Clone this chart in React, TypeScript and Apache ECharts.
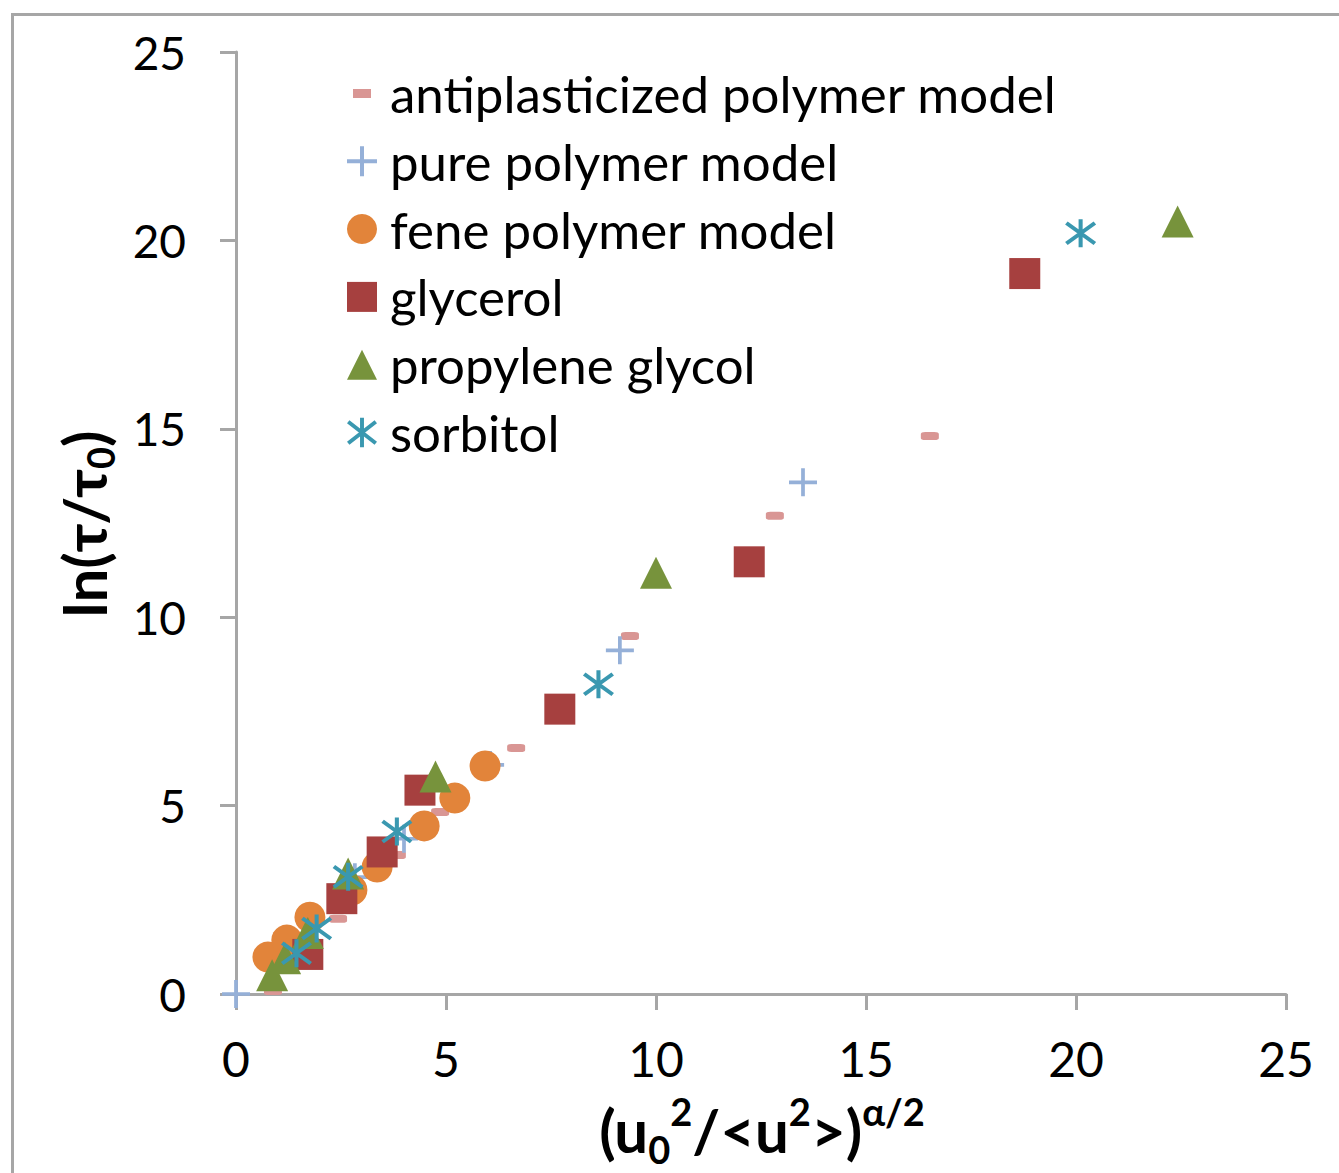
import React, { useEffect, useRef } from "react";
import * as echarts from "echarts";

// ---- data ----
const antiX = [0.88, 2.43, 3.83, 4.86, 6.67, 9.38, 12.83, 16.52];
const antiY = [0.08, 2.0, 3.69, 4.83, 6.53, 9.5, 12.69, 14.81];

const pureX = [0, 0.81, 2.83, 4.0, 6.05, 9.14, 13.5];
const pureY = [0, 0.82, 3.1, 4.12, 6.08, 9.12, 13.58];

const feneX = [0.76, 1.21, 1.76, 2.76, 3.36, 4.48, 5.21, 5.93];
const feneY = [0.98, 1.43, 2.04, 2.76, 3.37, 4.46, 5.2, 6.05];

const glyX = [1.71, 2.52, 3.48, 4.38, 7.71, 12.22, 18.78];
const glyY = [1.05, 2.53, 3.77, 5.41, 7.56, 11.47, 19.12];

const propX = [0.86, 1.17, 1.71, 2.67, 4.75, 10.0, 22.42];
const propY = [0.5, 0.95, 1.62, 3.2, 5.77, 11.18, 20.5];

const sorbX = [1.44, 1.92, 2.67, 3.83, 8.63, 20.11];
const sorbY = [1.08, 1.74, 3.11, 4.31, 8.22, 20.19];

const seriesNames = [
  "antiplasticized polymer model",
  "pure polymer model",
  "fene polymer model",
  "glycerol",
  "propylene glycol",
  "sorbitol",
];

const axisTicks = [0, 5, 10, 15, 20, 25];

// ---- styling ----
const FONT = "Lato";
const AXIS_GRAY = "#a6a6a6";

const PLUS_PATH =
  "path://M13,0H17V13H30V17H17V30H13V17H0V13H13Z";
const ASTER_PATH =
  "path://M13,0L17,0L17,30L13,30Z" +
  "M2.24,2.43L30.24,24.43L27.76,27.57L-0.24,5.57Z" +
  "M-0.24,24.43L27.76,2.43L30.24,5.57L2.24,27.57Z";
const DASH_LEGEND_PATH = "path://M0,0M30,30M6,10.5H24V19.5H6Z";

const zip = (xs: number[], ys: number[]) => xs.map((x, i) => [x, ys[i]]);

export default function App() {
  const ref = useRef<HTMLDivElement>(null);

  useEffect(() => {
    document.body.style.margin = "0";
    if (!ref.current) return;
    const chart = echarts.init(ref.current, null, { renderer: "svg" });

    const colors = ["#d99694", "#95b0d8", "#e2843a", "#a6403f", "#77933c", "#3a98b0"];

    const option: any = {
      animation: false,
      backgroundColor: "#ffffff",
      grid: { left: 236, right: 53, top: 52, bottom: 179, containLabel: false },
      xAxis: {
        type: "value",
        min: 0,
        max: 25,
        interval: 5,
        splitLine: { show: false },
        axisLine: { show: true, onZero: false, lineStyle: { color: AXIS_GRAY, width: 3 } },
        axisTick: { show: true, length: 16, lineStyle: { color: AXIS_GRAY, width: 3 } },
        axisLabel: {
          margin: 40,
          fontFamily: FONT,
          fontSize: 48,
          color: "#000",
          formatter: (v: number) => (axisTicks.includes(v) ? String(v) : ""),
        },
      },
      yAxis: {
        type: "value",
        min: 0,
        max: 25,
        interval: 5,
        splitLine: { show: false },
        axisLine: { show: true, onZero: false, lineStyle: { color: AXIS_GRAY, width: 3 } },
        axisTick: { show: true, length: 16, lineStyle: { color: AXIS_GRAY, width: 3 } },
        axisLabel: {
          margin: 50,
          fontFamily: FONT,
          fontSize: 46,
          color: "#000",
          formatter: (v: number) => (axisTicks.includes(v) ? String(v) : ""),
        },
      },
      legend: {
        orient: "vertical",
        left: 347,
        top: 68,
        padding: 0,
        itemWidth: 30,
        itemHeight: 30,
        itemGap: 16.8,
        textStyle: {
          fontFamily: FONT,
          fontSize: 51,
          color: "#000",
          lineHeight: 30,
          padding: [0, 0, 0, 8],
        },
        data: [
          { name: seriesNames[0], icon: DASH_LEGEND_PATH },
          { name: seriesNames[1], icon: PLUS_PATH },
          { name: seriesNames[2], icon: "circle" },
          { name: seriesNames[3], icon: "rect" },
          { name: seriesNames[4], icon: "triangle" },
          { name: seriesNames[5], icon: ASTER_PATH },
        ],
      },
      graphic: [
        {
          type: "rect",
          left: 10,
          top: 12,
          shape: { x: 0, y: 0, width: 1400, height: 1300 },
          style: { fill: "none", stroke: AXIS_GRAY, lineWidth: 3 },
          silent: true,
          z: -10,
        },
        {
          type: "text",
          x: 84,
          y: 524,
          rotation: Math.PI / 2,
          style: {
            text: "{b|ln(τ/τ}{s|0}{b|)}",
            align: "center",
            verticalAlign: "middle",
            rich: {
              b: { fontFamily: FONT, fontWeight: "bold", fontSize: 60, fill: "#000", lineHeight: 70, verticalAlign: "middle" },
              s: { fontFamily: FONT, fontWeight: "bold", fontSize: 38, fill: "#000", lineHeight: 66, verticalAlign: "bottom" },
            },
          },
        },
        {
          type: "text",
          x: 762,
          y: 1130,
          style: {
            text: "{b|(u}{s|0}{p|2}{b|/<u}{p|2}{b|>)}{p|α/2}",
            align: "center",
            verticalAlign: "middle",
            rich: {
              b: { fontFamily: FONT, fontWeight: "bold", fontSize: 60, fill: "#000", lineHeight: 76, verticalAlign: "middle" },
              s: { fontFamily: FONT, fontWeight: "bold", fontSize: 38, fill: "#000", lineHeight: 62, verticalAlign: "bottom" },
              p: { fontFamily: FONT, fontWeight: "bold", fontSize: 38, fill: "#000", lineHeight: 66, verticalAlign: "top" },
            },
          },
        },
      ],
      series: [
        {
          name: seriesNames[0],
          type: "scatter",
          symbol: "roundRect",
          symbolSize: [18, 8],
          itemStyle: { color: colors[0], opacity: 1 },
          data: zip(antiX, antiY),
        },
        {
          name: seriesNames[1],
          type: "scatter",
          symbol: PLUS_PATH,
          symbolSize: 28,
          itemStyle: { color: colors[1], opacity: 1 },
          data: zip(pureX, pureY),
        },
        {
          name: seriesNames[2],
          type: "scatter",
          symbol: "circle",
          symbolSize: 31,
          itemStyle: { color: colors[2], opacity: 1 },
          data: zip(feneX, feneY),
        },
        {
          name: seriesNames[3],
          type: "scatter",
          symbol: "rect",
          symbolSize: 31,
          itemStyle: { color: colors[3], opacity: 1 },
          data: zip(glyX, glyY),
        },
        {
          name: seriesNames[4],
          type: "scatter",
          symbol: "triangle",
          symbolSize: 32,
          itemStyle: { color: colors[4], opacity: 1 },
          data: zip(propX, propY),
        },
        {
          name: seriesNames[5],
          type: "scatter",
          symbol: ASTER_PATH,
          symbolSize: [31, 28],
          itemStyle: { color: colors[5], opacity: 1 },
          data: zip(sorbX, sorbY),
        },
      ],
    };

    chart.setOption(option);
    return () => chart.dispose();
  }, []);

  return <div ref={ref} style={{ width: 1339, height: 1173 }} />;
}
